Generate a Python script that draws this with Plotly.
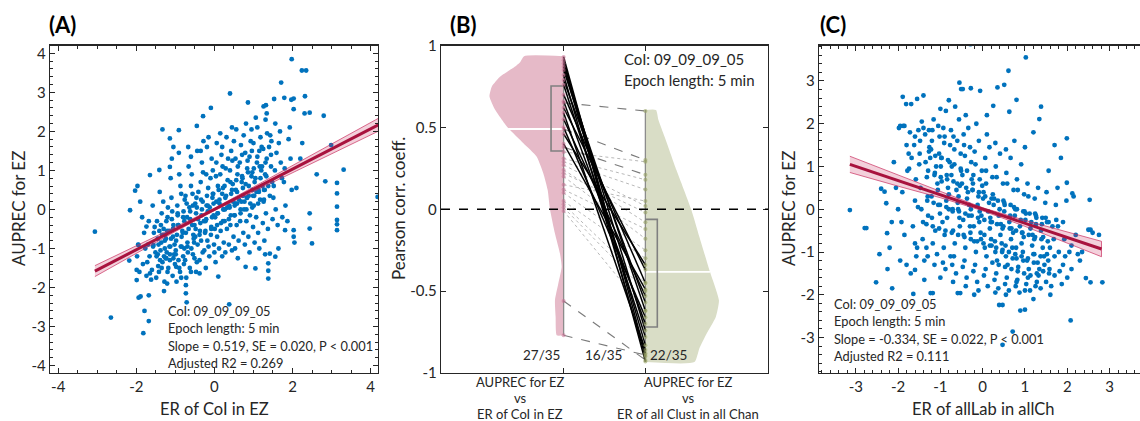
import plotly.graph_objects as go

W, H = 1140, 421
FONT = "Lato"
INK = "#262626"
BLUE = "#0072BD"
RED = "#A8123E"

# ---------------- Panel A data (ER of CoI in EZ vs AUPREC for EZ) ----------------
A_points = [
    # outliers / sparse region
    (-3.06, -0.57), (-2.65, -2.77), (-2.16, -0.02), (-2.03, 0.48), (-1.97, 0.60), (-1.82, -3.17),
    (-1.79, -2.60), (-1.68, -2.86), (-1.94, -2.26), (-1.89, -2.23), (-1.68, -2.20), (1.98, 3.85),
    (2.24, 3.56), (2.35, 3.56), (1.71, 3.25), (0.40, 2.97), (-0.09, 2.60), (-0.29, 2.39),
    (2.99, 1.65), (3.31, 1.02), (3.14, 0.68), (3.14, 0.41), (3.14, 0.07), (3.14, -0.27),
    (3.14, -0.38), (3.14, -0.53), (4.18, 0.32), (2.50, -0.87), (2.44, -0.49), (2.44, -0.10),
    (2.80, 2.40), (2.62, 0.90), (2.84, 0.72), (2.32, 2.90), (2.31, 2.46), (2.44, 2.48),
    (2.03, 2.84), (1.97, 2.81), (2.03, 2.57), (1.79, 2.86), (1.53, 2.83), (1.34, 2.46),
    (1.26, 2.64), (1.32, 2.67), (0.86, 2.74), (0.38, -2.43), (-0.73, -2.15), (-0.71, -2.38),
    (-0.73, -1.94), (-1.29, -2.09), (-1.33, 2.05), (-0.91, 2.03), (-0.45, 2.14), (1.38, -1.77),
    (1.38, -1.57), (1.38, -1.38), (1.05, -1.51), (0.80, -1.47), (2.03, -0.70), (2.05, -0.85),
    (2.03, -0.53), (1.81, -0.53), (1.64, -1.00), (1.56, -1.21), (1.42, -1.13), (0.10, -1.72),
    (-0.38, -1.64), (-0.98, -1.47), (-1.65, -1.64), (-1.99, -1.81), (-1.99, -1.55), (-1.95, -0.91),
    (-2.18, -1.31), (-1.74, -0.44), (-1.56, -0.91), (-1.65, 0.88), (-1.41, 1.01), (-1.14, 1.09),
    (-1.14, 1.82), (-1.05, 1.60), (2.20, 1.30), (2.10, 0.55), (2.25, 1.70), (1.10, 2.10),
    # core cloud
    (-1.98, -1.20), (-1.80, -0.60), (-1.92, -1.60), (-1.85, -0.20), (-1.77, -1.00), (-1.95, -0.90),
    (-1.83, -1.40), (-1.90, 0.20),
    (-1.72, -1.35), (-1.55, -0.60), (-1.62, -1.80), (-1.68, -0.30), (-1.51, -1.10), (-1.60, -1.55),
    (-1.70, -0.90), (-1.58, 0.10), (-1.66, -1.20), (-1.53, -0.45), (-1.74, -1.70), (-1.57, -0.95),
    (-1.48, -1.20), (-1.30, -0.50), (-1.42, -1.60), (-1.35, -0.10), (-1.27, -1.00), (-1.45, -0.75),
    (-1.33, -1.35), (-1.40, 0.45), (-1.28, -1.85), (-1.47, -0.30), (-1.38, -1.05), (-1.26, -0.65),
    (-1.44, -1.45), (-1.31, 0.20), (-1.36, -0.85), (-1.49, -1.75), (-1.29, -1.20), (-1.41, -0.55),
    (-1.22, -1.10), (-1.05, -0.40), (-1.18, -1.50), (-1.10, 0.30), (-1.02, -0.90), (-1.20, -0.20),
    (-1.14, -1.30), (-1.07, -1.70), (-1.24, -0.75), (-1.12, 0.80), (-1.03, -1.15), (-1.16, -0.55),
    (-1.21, -1.90), (-1.08, -0.05), (-1.13, -0.95), (-1.01, -1.40), (-1.19, 0.05), (-1.06, -0.70),
    (-1.23, -1.25), (-1.09, 1.30),
    (-0.98, -0.80), (-0.80, -0.20), (-0.92, -1.30), (-0.85, 0.40), (-0.77, -1.00), (-0.95, 0.10),
    (-0.88, -1.60), (-0.82, -0.55), (-0.99, -1.15), (-0.90, 0.90), (-0.78, -1.40), (-0.93, -0.40),
    (-0.86, -0.95), (-0.76, 0.25), (-0.97, -1.85), (-0.84, -0.70), (-0.91, 1.45), (-0.80, -1.20),
    (-0.94, -0.10), (-0.87, 0.60),
    (-0.73, -0.60), (-0.55, 0.10), (-0.68, -1.10), (-0.60, 0.60), (-0.52, -0.85), (-0.70, -0.20),
    (-0.63, -1.50), (-0.57, -0.40), (-0.74, 0.35), (-0.66, 1.10), (-0.51, -1.25), (-0.69, -0.95),
    (-0.58, 0.90), (-0.72, -1.75), (-0.62, -0.05), (-0.54, -0.65), (-0.67, 1.60), (-0.59, -1.00),
    (-0.71, 0.15), (-0.56, 0.40),
    (-0.48, -0.50), (-0.30, 0.20), (-0.43, -0.90), (-0.35, 0.70), (-0.27, -0.30), (-0.45, 0.05),
    (-0.38, -1.30), (-0.32, 1.20), (-0.49, -0.70), (-0.41, 0.45), (-0.26, -1.05), (-0.44, 1.50),
    (-0.33, -0.15), (-0.47, -1.60), (-0.37, -0.55), (-0.29, 0.95), (-0.42, -0.25), (-0.28, 1.75),
    (-0.46, 0.30), (-0.34, -0.80),
    (-0.23, -0.30), (-0.05, 0.30), (-0.18, -0.80), (-0.10, 0.80), (-0.02, -0.15), (-0.20, 0.10),
    (-0.13, -1.20), (-0.07, 1.30), (-0.24, -0.60), (-0.16, 0.55), (-0.01, -0.90), (-0.19, 1.60),
    (-0.08, -0.45), (-0.22, -1.50), (-0.12, 0.05), (-0.04, 1.00), (-0.17, -0.05), (-0.03, 0.40),
    (-0.21, 0.90), (-0.09, -0.65),
    (0.02, -0.20), (0.20, 0.40), (0.07, -0.70), (0.15, 0.90), (0.23, 0.00), (0.05, 0.20),
    (0.12, -1.00), (0.18, 1.40), (0.01, -0.50), (0.09, 0.60), (0.24, -0.85), (0.06, 1.70),
    (0.17, -0.35), (0.03, -1.35), (0.13, 0.15), (0.21, 1.10), (0.08, -0.10), (0.22, 0.55),
    (0.04, 0.85), (0.16, -0.55),
    (0.27, 0.00), (0.45, 0.50), (0.32, -0.50), (0.40, 1.00), (0.48, 0.20), (0.30, 0.35),
    (0.37, -0.90), (0.43, 1.50), (0.26, -0.30), (0.34, 0.75), (0.49, -0.70), (0.31, 1.85),
    (0.42, -0.15), (0.28, -1.10), (0.38, 0.10), (0.46, 1.25), (0.33, 0.05), (0.47, 0.65),
    (0.29, 1.05), (0.41, -0.40),
    (0.52, 0.10), (0.70, 0.70), (0.57, -0.40), (0.65, 1.20), (0.73, 0.35), (0.55, 0.50),
    (0.62, -0.80), (0.68, 1.65), (0.51, -0.15), (0.59, 0.90), (0.74, -0.60), (0.56, 2.05),
    (0.67, 0.00), (0.53, -1.00), (0.63, 0.25), (0.71, 1.40), (0.58, 0.15), (0.72, 0.80),
    (0.54, 1.30), (0.66, -0.30),
    (0.77, 0.20), (0.95, 0.85), (0.82, -0.30), (0.90, 1.35), (0.98, 0.50), (0.80, 0.65),
    (0.87, -0.70), (0.93, 1.75), (0.76, 0.00), (0.84, 1.05), (0.99, -0.45), (0.81, 2.20),
    (0.92, 0.15), (0.78, -0.90), (0.88, 0.35), (0.96, 1.50), (0.83, 0.30), (0.97, 0.95),
    (0.79, 1.45), (0.91, -0.15),
    (1.02, 0.35), (1.20, 1.00), (1.07, -0.20), (1.15, 1.50), (1.23, 0.60), (1.05, 0.80),
    (1.12, -0.60), (1.18, 1.85), (1.01, 0.10), (1.09, 1.20), (1.24, -0.35), (1.06, 2.35),
    (1.17, 0.25), (1.03, -0.85), (1.13, 0.50), (1.21, 1.60), (1.08, 0.45), (1.22, 1.10),
    (1.27, 0.50), (1.45, 1.10), (1.32, -0.10), (1.40, 1.60), (1.48, 0.70), (1.30, 0.90),
    (1.37, -0.50), (1.43, 1.90), (1.26, 0.20), (1.34, 1.30), (1.49, -0.25), (1.31, 2.30),
    (1.42, 0.35), (1.28, -0.80), (1.38, 0.60), (1.46, 1.75),
    (1.52, 0.60), (1.70, 1.20), (1.57, 0.00), (1.65, 1.70), (1.73, 0.80), (1.55, 1.00),
    (1.62, -0.40), (1.68, 2.00), (1.51, 0.30), (1.59, 1.45), (1.74, -0.20), (1.56, 2.20),
    (1.78, 0.70), (1.95, 1.30), (1.82, 0.10), (1.90, 1.80), (1.98, 0.50), (1.80, 1.05),
    (1.87, -0.30), (1.93, 2.10),
    # densest band around the fit
    (-1.43, -0.90), (-1.37, -0.40), (-1.39, -1.30), (-1.34, -0.65), (-1.27, -0.80), (-1.23, -0.30),
    (-1.25, -1.25), (-1.21, -0.55), (-1.11, -0.75), (-1.09, -0.25), (-1.14, -1.15), (-1.06, -0.50),
    (-0.96, -0.65), (-0.94, -0.15), (-0.99, -1.05), (-0.92, -0.40), (-0.81, -0.60), (-0.79, -0.05),
    (-0.84, -0.95), (-0.77, -0.30), (-0.66, -0.50), (-0.64, 0.05), (-0.69, -0.85), (-0.62, -0.25),
    (-0.51, -0.40), (-0.49, 0.15), (-0.53, -0.75), (-0.47, -0.10), (-0.36, -0.35), (-0.34, 0.25),
    (-0.38, -0.65), (-0.32, 0.00), (-0.21, -0.25), (-0.19, 0.35), (-0.23, -0.55), (-0.17, 0.10),
    (-0.06, -0.20), (-0.04, 0.40), (-0.08, -0.50), (-0.02, 0.15), (0.09, -0.10), (0.11, 0.50),
    (0.07, -0.40), (0.13, 0.25), (0.24, 0.00), (0.26, 0.60), (0.22, -0.30), (0.28, 0.30),
    (0.39, 0.05), (0.41, 0.70), (0.37, -0.25), (0.43, 0.40), (0.54, 0.15), (0.56, 0.75),
    (0.52, -0.15), (0.58, 0.45), (0.69, 0.20), (0.71, 0.85), (0.67, -0.10), (0.73, 0.55),
    (0.84, 0.30), (0.86, 0.95), (0.82, 0.00), (0.88, 0.60), (0.99, 0.35), (1.01, 1.05),
    (0.97, 0.05), (1.03, 0.70), (1.14, 0.45), (1.16, 1.10), (1.12, 0.15), (1.18, 0.80),
    (1.29, 0.50), (1.31, 1.20), (1.27, 0.25), (1.33, 0.85),
    (0.05, 1.20), (0.20, 1.60), (0.35, 1.30), (0.50, 1.75), (0.60, 1.10), (0.75, 1.90),
    (0.85, 1.25), (1.00, 1.70), (1.10, 1.35), (1.25, 1.55), (1.35, 1.95), (1.45, 1.40),
    (0.15, 1.95), (0.45, 2.10), (0.95, 2.05), (-0.15, 1.85), (-0.60, 1.35), (-0.35, 1.50),
    (-1.35, -1.50), (-1.20, -1.60), (-1.05, -1.25), (-0.90, -1.50), (-0.75, -1.30), (-0.60, -1.60),
    (-0.45, -1.35), (-1.45, -1.15), (-1.15, -0.95), (-0.85, -1.75), (-0.55, -1.15), (-0.30, -1.10),
    (-0.15, -0.95), (0.00, -1.10), (0.20, -1.20), (0.45, -1.05), (0.60, -1.25), (0.90, -1.10),
    (1.15, -1.00), (1.30, -1.15),
]
A_fit_x = [-3.06, 4.20]
A_fit_y = [-1.58, 2.17]
A_band_x = [-3.06, -2.0, -1.0, 0.0, 1.0, 2.0, 3.0, 4.2]
A_band_lo = [-1.72, -1.125, -0.565, -0.03, 0.465, 0.935, 1.42, 2.005]
A_band_hi = [-1.44, -0.935, -0.455, 0.03, 0.575, 1.125, 1.68, 2.335]
A_ticks = [-4, -3, -2, -1, 0, 1, 2, 3, 4]
A_xticks = [-4, -2, 0, 2, 4]
A_text = ["CoI: 09_09_09_05", "Epoch length: 5 min",
          "Slope = 0.519, SE = 0.020, P < 0.001", "Adjusted R2 = 0.269"]

# ---------------- Panel B data (paired Pearson correlations) ----------------
B_cat_lines = [["AUPREC for EZ", "vs", "ER of CoI in EZ"],
               ["AUPREC for EZ", "vs", "ER of all Clust in all Chan"]]
B_solid_left = [0.93, 0.91, 0.89, 0.87, 0.85, 0.82, 0.79, 0.76, 0.70, 0.66, 0.62, 0.59, 0.55, 0.50, 0.46, 0.40]
B_solid_right = [-0.88, -0.93, -0.74, -0.83, -0.62, -0.90, -0.57, -0.78, -0.45, -0.70, -0.37, -0.86, -0.53,
                 -0.66, -0.34, -0.49]
B_dash_left = [0.65, 0.49, 0.38, -0.56, -0.77]
B_dash_right = [0.60, 0.30, 0.21, -0.92, -0.89]
B_dot_left = [0.35, 0.31, 0.29, 0.27, 0.24, 0.22, 0.20, 0.15, 0.12, 0.10, 0.05, 0.03, 0.01, -0.01]
B_dot_right = [0.29, 0.18, 0.12, 0.02, -0.08, -0.02, -0.18, 0.05, -0.12, -0.25, -0.30, -0.45, -0.50, -0.62]
VL_y = [0.935, 0.90, 0.872, 0.84, 0.81, 0.749, 0.688, 0.607, 0.55, 0.494, 0.403, 0.321, 0.219, 0.117, 0.0,
        -0.148, -0.27, -0.352, -0.454, -0.556, -0.657, -0.77]
VL_w = [0.484, 0.53, 0.593, 0.69, 0.776, 0.878, 0.907, 0.838, 0.76, 0.675, 0.492, 0.329, 0.248, 0.195, 0.167,
        0.106, 0.045, 0.024, 0.065, 0.106, 0.098, 0.085]
VR_y = [0.606, 0.545, 0.443, 0.24, 0.0, -0.168, -0.382, -0.556, -0.66, -0.759, -0.85, -0.933]
VR_w = [0.13, 0.16, 0.235, 0.38, 0.56, 0.66, 0.79, 0.90, 0.86, 0.75, 0.66, 0.60]
B_median = [0.49, -0.382]
B_median_w = [0.68, 0.79]
B_q1 = [0.356, -0.719]
B_q3 = [0.753, -0.062]
B_counts = ["27/35", "16/35", "22/35"]
B_yticks = [-1, -0.5, 0, 0.5, 1]
B_ytext = ["-1", "-0.5", "0", "0.5", "1"]
B_text = ["CoI: 09_09_09_05", "Epoch length: 5 min"]

# ---------------- Panel C data (ER of allLab in allCh vs AUPREC for EZ) ----------------
C_points = [
    (-0.29, 3.86), (1.02, 3.55), (0.61, 3.24), (-3.14, -0.02), (-2.75, -0.44), (-2.79, -0.44),
    (-2.52, -1.71), (-2.44, -1.05), (-2.14, -1.85), (-2.26, -0.56), (-2.28, 0.14), (-2.32, 0.41),
    (-2.40, 0.48), (-1.89, 2.63), (-1.81, 2.46), (-1.69, 2.46), (-1.55, 2.58), (-1.40, 2.66),
    (-0.55, 2.96), (-0.51, 2.81), (-0.47, 2.81), (-0.28, 2.83), (-0.06, 2.77), (0.35, 2.85),
    (0.51, 2.91), (0.25, 2.42), (0.80, 2.56), (0.63, 2.28), (1.38, 2.40), (1.34, 2.11),
    (1.99, 1.66), (1.99, 0.62), (2.12, 0.37), (2.53, 0.22), (2.55, -0.48), (2.50, -0.48),
    (2.75, -0.60), (2.83, -1.71), (2.55, -1.71), (2.44, -1.61), (2.08, -2.60), (0.89, -2.37),
    (1.00, -2.35), (0.39, -2.24), (0.47, -2.24), (0.47, -3.17), (0.71, -2.86), (-0.59, -1.96),
    (-0.53, -1.96), (-1.18, -1.96), (-1.23, -1.96), (-1.64, -1.98), (-1.60, -1.42), (-1.38, -1.65),
    (-1.00, 2.35), (-0.80, 2.55), (0.10, 2.20), (-1.95, 1.95), (-1.85, 1.95), (1.70, 1.50),
    (1.60, -2.00), (1.20, -2.10), (-0.20, -2.00), (2.35, -1.00), (2.60, -0.55),
    # core cloud
    (-2.10, 1.10), (-2.20, -0.90), (-2.05, 0.50), (-2.25, -1.40), (-2.15, -0.30),
    (-1.98, 1.90), (-1.90, 0.40), (-1.85, -0.60), (-1.80, 1.50), (-1.95, -1.20), (-1.78, 0.90),
    (-1.88, 1.95), (-1.92, -0.30),
    (-1.72, 1.80), (-1.60, 0.20), (-1.55, -0.90), (-1.68, 1.20), (-1.52, 1.85), (-1.65, -0.40),
    (-1.58, 0.70), (-1.70, -1.50), (-1.62, 1.50), (-1.53, 0.05), (-1.74, 0.95), (-1.57, -1.10),
    (-1.48, 1.60), (-1.30, 0.30), (-1.42, -0.70), (-1.35, 1.10), (-1.27, 1.85), (-1.45, 0.00),
    (-1.38, -1.20), (-1.32, 0.75), (-1.49, 1.30), (-1.41, -0.30), (-1.26, 1.45), (-1.44, 2.05),
    (-1.33, -0.90), (-1.47, 0.50), (-1.36, 1.75), (-1.29, -0.15),
    (-1.22, 1.40), (-1.05, 0.10), (-1.18, -0.80), (-1.10, 1.00), (-1.02, 1.70), (-1.20, -0.20),
    (-1.14, -1.30), (-1.07, 0.60), (-1.24, 1.20), (-1.12, -0.50), (-1.03, 1.30), (-1.16, 2.10),
    (-1.21, 0.30), (-1.08, -1.05), (-1.13, 0.85), (-1.01, -0.10), (-1.19, 1.85), (-1.06, 0.45),
    (-0.98, 1.20), (-0.80, 0.00), (-0.92, -0.90), (-0.85, 0.80), (-0.77, 1.50), (-0.95, -0.30),
    (-0.88, -1.40), (-0.82, 0.50), (-0.99, 1.00), (-0.90, -0.60), (-0.78, 1.10), (-0.93, 1.90),
    (-0.86, 0.20), (-0.76, -1.10), (-0.97, 0.65), (-0.84, -0.20), (-0.91, 1.55), (-0.80, 0.35),
    (-0.94, -1.25), (-0.87, 2.30),
    (-0.73, 1.00), (-0.55, -0.20), (-0.68, -1.10), (-0.60, 0.60), (-0.52, 1.30), (-0.70, -0.50),
    (-0.63, -1.50), (-0.57, 0.30), (-0.74, 0.80), (-0.66, -0.80), (-0.51, 0.90), (-0.69, 1.70),
    (-0.58, 0.00), (-0.72, -1.30), (-0.62, 0.45), (-0.54, -0.40), (-0.67, 1.40), (-0.59, 0.15),
    (-0.71, -0.05), (-0.56, 2.10),
    (-0.48, 0.80), (-0.30, -0.40), (-0.43, -1.20), (-0.35, 0.40), (-0.27, 1.10), (-0.45, -0.60),
    (-0.38, -1.60), (-0.32, 0.10), (-0.49, 0.60), (-0.41, -0.90), (-0.26, 0.70), (-0.44, 1.50),
    (-0.33, -0.15), (-0.47, -1.35), (-0.37, 0.25), (-0.29, -0.55), (-0.42, 1.25), (-0.28, 0.00),
    (-0.46, -0.25), (-0.34, 1.90),
    (-0.23, 0.60), (-0.05, -0.55), (-0.18, -1.30), (-0.10, 0.30), (-0.02, 0.90), (-0.20, -0.75),
    (-0.13, -1.70), (-0.07, -0.05), (-0.24, 0.45), (-0.16, -1.00), (-0.01, 0.55), (-0.19, 1.35),
    (-0.08, -0.30), (-0.22, -1.45), (-0.12, 0.10), (-0.04, -0.70), (-0.17, 1.05), (-0.03, -0.15),
    (-0.21, -0.40), (-0.09, 1.60),
    (0.02, 0.40), (0.20, -0.70), (0.07, -1.40), (0.15, 0.15), (0.23, 0.75), (0.05, -0.90),
    (0.12, -1.80), (0.18, -0.20), (0.01, 0.25), (0.09, -1.10), (0.24, 0.35), (0.06, 1.20),
    (0.17, -0.45), (0.03, -1.55), (0.13, -0.05), (0.21, -0.85), (0.08, 0.90), (0.22, -0.30),
    (0.04, -0.60), (0.16, 1.45),
    (0.27, 0.25), (0.45, -0.80), (0.32, -1.50), (0.40, 0.00), (0.48, 0.60), (0.30, -1.00),
    (0.37, -1.85), (0.43, -0.35), (0.26, 0.10), (0.34, -1.20), (0.49, 0.20), (0.31, 1.00),
    (0.42, -0.60), (0.28, -1.65), (0.38, -0.15), (0.46, -1.00), (0.33, 0.75), (0.47, -0.45),
    (0.29, -0.75), (0.41, 1.30),
    (0.52, 0.10), (0.70, -0.90), (0.57, -1.60), (0.65, -0.15), (0.73, 0.45), (0.55, -1.10),
    (0.62, -1.90), (0.68, -0.45), (0.51, -0.05), (0.59, -1.30), (0.74, 0.05), (0.56, 0.85),
    (0.67, -0.70), (0.53, -1.75), (0.63, -0.30), (0.71, -1.15), (0.58, 0.60), (0.72, -0.55),
    (0.54, -0.85), (0.66, 1.20),
    (0.77, 0.00), (0.95, -1.00), (0.82, -1.65), (0.90, -0.25), (0.98, 0.35), (0.80, -1.15),
    (0.87, -1.95), (0.93, -0.55), (0.76, -0.15), (0.84, -1.35), (0.99, -0.05), (0.81, 0.70),
    (0.92, -0.80), (0.78, -1.80), (0.88, -0.40), (0.96, -1.20), (0.83, 0.45), (0.97, -0.65),
    (0.79, -0.90), (0.91, 1.05),
    (1.02, -0.10), (1.20, -1.05), (1.07, -1.60), (1.15, -0.30), (1.23, 0.25), (1.05, -1.20),
    (1.12, -1.90), (1.18, -0.60), (1.01, -0.25), (1.09, -1.40), (1.24, -0.10), (1.06, 0.60),
    (1.17, -0.85), (1.03, -1.75), (1.13, -0.45), (1.21, -1.25), (1.08, 0.30), (1.22, -0.70),
    (1.27, -0.20), (1.45, -1.10), (1.32, -1.55), (1.40, -0.35), (1.48, 0.15), (1.30, -1.25),
    (1.37, -1.85), (1.43, -0.65), (1.26, -0.35), (1.34, -1.40), (1.49, -0.20), (1.31, 0.50),
    (1.42, -0.90), (1.28, -1.70), (1.38, -0.50), (1.46, -1.30),
    (1.52, -0.30), (1.70, -1.10), (1.57, -1.50), (1.65, -0.40), (1.73, 0.10), (1.55, -1.20),
    (1.62, -1.80), (1.68, -0.70), (1.51, 0.40), (1.59, -0.90), (1.74, -0.25), (1.56, 0.90),
    (1.78, -0.40), (1.95, -1.10), (1.82, -1.45), (1.90, -0.30), (1.98, 0.20), (1.80, -1.00),
    (1.87, -1.75), (1.93, -0.70), (1.85, 1.20), (1.77, 0.50),
    (2.05, -1.00), (2.20, -0.60), (2.10, -1.40), (2.25, -1.05), (2.15, 0.30), (2.30, -1.20),
    # densest part of the cloud
    (-1.31, 0.20), (-1.29, 0.90), (-1.33, -0.35), (-1.27, 1.35), (-1.16, 0.15), (-1.14, 0.80),
    (-1.18, -0.40), (-1.12, 1.25), (-1.01, 0.10), (-0.99, 0.75), (-1.03, -0.45), (-0.97, 1.20),
    (-0.86, 0.05), (-0.84, 0.70), (-0.88, -0.50), (-0.82, 1.15), (-0.71, 0.00), (-0.69, 0.65),
    (-0.73, -0.55), (-0.67, 1.05), (-0.56, -0.05), (-0.54, 0.55), (-0.58, -0.60), (-0.52, 0.95),
    (-0.41, -0.10), (-0.39, 0.50), (-0.43, -0.65), (-0.37, 0.90), (-0.26, -0.15), (-0.24, 0.45),
    (-0.28, -0.70), (-0.22, 0.80), (-0.11, -0.20), (-0.09, 0.40), (-0.13, -0.75), (-0.07, 0.70),
    (0.04, -0.25), (0.06, 0.30), (0.02, -0.80), (0.08, 0.60), (0.19, -0.30), (0.21, 0.25),
    (0.17, -0.85), (0.23, -1.25), (0.34, -0.35), (0.36, 0.20), (0.32, -0.90), (0.38, -1.30),
    (0.49, -0.40), (0.51, 0.15), (0.47, -0.95), (0.53, -1.35), (0.64, -0.45), (0.66, 0.10),
    (0.62, -1.00), (0.68, -1.40), (0.79, -0.50), (0.81, 0.00), (0.77, -1.05), (0.83, -1.45),
    (0.94, -0.55), (0.96, -0.05), (0.92, -1.10), (0.98, -1.50), (1.09, -0.60), (1.11, -0.10),
    (1.07, -1.15), (1.13, -1.55), (1.24, -0.65), (1.26, -0.15), (1.22, -1.05), (1.28, -1.50),
    (1.39, -0.70), (1.41, -0.20), (1.37, -1.10), (1.43, -1.45), (1.54, -0.75), (1.56, -0.30),
    (1.52, -1.05), (1.58, -1.40),
    (-1.60, 1.70), (-1.40, 1.90), (-1.20, 1.60), (-1.05, 1.95), (-0.90, 1.70), (-0.75, 1.85),
    (-0.60, 1.60), (-0.45, 1.75), (-0.30, 1.45), (-1.75, 1.30), (-1.50, 1.05), (-0.65, 2.40),
    (-0.40, 2.20), (-0.15, 2.00), (0.10, 1.75), (0.30, 1.55), (0.55, 1.40), (0.75, 1.60),
    (1.00, 1.45), (1.20, 1.80),
    (0.30, -1.95), (0.55, -2.00), (0.80, -1.70), (1.00, -1.90), (1.25, -1.80), (1.50, -1.70),
    (1.70, -1.55), (1.90, -1.30), (2.10, -0.85), (2.00, -1.60), (-0.10, -1.90), (-0.40, -1.80),
    (-0.70, -1.70), (-1.00, -1.60), (-1.30, -1.10), (-1.60, -0.80), (-1.80, -1.30), (-2.00, 0.00),
]
C_fit_x = [-3.14, 2.81]
C_fit_y = [1.05, -0.93]
C_band_x = [-3.14, -2.0, -1.0, 0.0, 1.0, 2.0, 2.81]
C_band_lo = [0.86, 0.54, 0.27, -0.035, -0.40, -0.79, -1.11]
C_band_hi = [1.24, 0.80, 0.41, 0.035, -0.26, -0.53, -0.75]
C_ticks = [-3, -2, -1, 0, 1, 2, 3]
C_text = ["CoI: 09_09_09_05", "Epoch length: 5 min",
          "Slope = -0.334, SE = 0.022, P < 0.001", "Adjusted R2 = 0.111"]


def px_x(p):
    return p / W


def px_y(p):
    return 1 - p / H


fig = go.Figure()


def scatter_panel(points, fx, fy, bx, blo, bhi, xa, ya):
    fig.add_trace(go.Scatter(x=[p[0] for p in points], y=[p[1] for p in points], mode="markers",
                             marker=dict(color=BLUE, size=4.8, line=dict(width=0)),
                             xaxis=xa, yaxis=ya, showlegend=False, hoverinfo="skip"))
    fig.add_trace(go.Scatter(x=bx + bx[::-1], y=bhi + blo[::-1], mode="lines", fill="toself",
                             fillcolor="rgba(200,40,90,0.22)",
                             line=dict(color="rgba(200,40,90,0.85)", width=0.8),
                             xaxis=xa, yaxis=ya, showlegend=False, hoverinfo="skip"))
    fig.add_trace(go.Scatter(x=fx, y=fy, mode="lines", line=dict(color=RED, width=3),
                             xaxis=xa, yaxis=ya, showlegend=False, hoverinfo="skip"))


scatter_panel(A_points, A_fit_x, A_fit_y, A_band_x, A_band_lo, A_band_hi, "x", "y")
scatter_panel(C_points, C_fit_x, C_fit_y, C_band_x, C_band_lo, C_band_hi, "x3", "y3")

# ---- Panel B ----
fig.add_trace(go.Scatter(x=[1] + [1 - w for w in VL_w] + [1], y=[VL_y[0]] + VL_y + [VL_y[-1]],
                         mode="lines", fill="toself", fillcolor="#E6BAC8",
                         line=dict(width=0, shape="spline", smoothing=0.5),
                         xaxis="x2", yaxis="y2", showlegend=False, hoverinfo="skip"))
fig.add_trace(go.Scatter(x=[2] + [2 + w for w in VR_w] + [2], y=[VR_y[0]] + VR_y + [VR_y[-1]],
                         mode="lines", fill="toself", fillcolor="#D9DDC6",
                         line=dict(width=0, shape="spline", smoothing=0.5),
                         xaxis="x2", yaxis="y2", showlegend=False, hoverinfo="skip"))
fig.add_trace(go.Scatter(x=[1 - B_median_w[0], 1, None, 2, 2 + B_median_w[1]],
                         y=[B_median[0], B_median[0], None, B_median[1], B_median[1]],
                         mode="lines", line=dict(color="white", width=1.8),
                         xaxis="x2", yaxis="y2", showlegend=False, hoverinfo="skip"))
fig.add_trace(go.Scatter(x=[1, 1, None, 2, 2], y=[VL_y[0], VL_y[-1], None, VR_y[0], VR_y[-1]],
                         mode="lines", line=dict(color="#8C8C8C", width=1.3),
                         xaxis="x2", yaxis="y2", showlegend=False, hoverinfo="skip"))
fig.add_trace(go.Scatter(x=[1, 0.846, 0.846, 1, None, 2, 2.146, 2.146, 2],
                         y=[B_q1[0], B_q1[0], B_q3[0], B_q3[0], None, B_q3[1], B_q3[1], B_q1[1], B_q1[1]],
                         mode="lines", line=dict(color="#808080", width=1.6),
                         xaxis="x2", yaxis="y2", showlegend=False, hoverinfo="skip"))


def pair_xy(left, right):
    xs, ys = [], []
    for a, b in zip(left, right):
        xs += [1, 2, None]
        ys += [a, b, None]
    return xs, ys


xs, ys = pair_xy(B_dot_left, B_dot_right)
fig.add_trace(go.Scatter(x=xs, y=ys, mode="lines", line=dict(color="#A6A6A6", width=0.8, dash="dot"),
                         xaxis="x2", yaxis="y2", showlegend=False, hoverinfo="skip"))
xs, ys = pair_xy(B_dash_left, B_dash_right)
fig.add_trace(go.Scatter(x=xs, y=ys, mode="lines", line=dict(color="#7A7A7A", width=1.1, dash="dash"),
                         xaxis="x2", yaxis="y2", showlegend=False, hoverinfo="skip"))
xs, ys = pair_xy(B_solid_left, B_solid_right)
fig.add_trace(go.Scatter(x=xs, y=ys, mode="lines", line=dict(color="black", width=1.5),
                         xaxis="x2", yaxis="y2", showlegend=False, hoverinfo="skip"))
all_left = B_solid_left + B_dash_left + B_dot_left
all_right = B_solid_right + B_dash_right + B_dot_right
fig.add_trace(go.Scatter(x=[1] * len(all_left), y=all_left, mode="markers",
                         marker=dict(color="rgba(200,110,145,0.55)", size=4),
                         xaxis="x2", yaxis="y2", showlegend=False, hoverinfo="skip"))
fig.add_trace(go.Scatter(x=[2] * len(all_right), y=all_right, mode="markers",
                         marker=dict(color="rgba(150,160,100,0.6)", size=4),
                         xaxis="x2", yaxis="y2", showlegend=False, hoverinfo="skip"))


def axis(domain, rng, anchor, tickvals, ticktext, minor=None, mirror="allticks"):
    d = dict(domain=domain, range=rng, anchor=anchor, showline=True, linecolor=INK, linewidth=1.2,
             mirror=mirror, ticks="inside", ticklen=5, tickwidth=1, tickcolor=INK,
             tickmode="array", tickvals=tickvals, ticktext=ticktext,
             showgrid=False, zeroline=False, automargin=False,
             tickfont=dict(family=FONT, size=15, color=INK))
    if minor is not None:
        d["minor"] = dict(ticks="inside", dtick=minor, tick0=0, ticklen=3, tickcolor=INK, showgrid=False)
    return d


yd = [px_y(373), px_y(45.5)]
fig.update_layout(
    xaxis=axis([px_x(50), px_x(378)], [-4.21, 4.19], "y", A_xticks, [str(v) for v in A_xticks], 0.5),
    yaxis=axis(yd, [-4.19, 4.2], "x", A_ticks, [str(v) for v in A_ticks], 0.2),
    xaxis2=axis([px_x(441), px_x(768)], [-0.5, 3.5], "y2", [1, 2], ["", ""]),
    yaxis2=axis(yd, [-1, 1], "x2", B_yticks, B_ytext),
    xaxis3=axis([px_x(819), 1.0], [-3.87, 3.72], "y3", C_ticks, [str(v) for v in C_ticks], 0.2),
    yaxis3=axis(yd, [-3.83, 3.83], "x3", C_ticks, [str(v) for v in C_ticks], 0.2, mirror=False),
)

fig.add_shape(type="line", xref="x2 domain", yref="y2", x0=0, x1=1, y0=0, y1=0,
              line=dict(color="black", width=1.3, dash="dash"))

ann = []


def text(x, y, s, size=14, bold=False, xanchor="left", angle=0):
    ann.append(dict(x=px_x(x), y=px_y(y), xref="paper", yref="paper", text=("<b>%s</b>" % s) if bold else s,
                    showarrow=False, xanchor=xanchor, yanchor="middle", textangle=angle,
                    font=dict(family=FONT, size=size, color="black" if bold else INK)))


text(62, 25, "(A)", 22, True, "center")
text(463, 25, "(B)", 22, True, "center")
text(833, 25, "(C)", 22, True, "center")
text(214, 409, "ER of CoI in EZ", 16.5, False, "center")
text(18, 209, "AUPREC for EZ", 17, False, "center", -90)
text(398, 209, "Pearson corr. coeff.", 17, False, "center", -90)
text(983, 409, "ER of allLab in allCh", 16.5, False, "center")
text(788, 209, "AUPREC for EZ", 17, False, "center", -90)
for i, s in enumerate(A_text):
    text(165.7, 311 + i * 17.4, s, 12.8)
for i, s in enumerate(C_text):
    text(831.7, 304 + i * 17.4, s, 12.8)
for i, s in enumerate(B_text):
    text(621.7, 59 + i * 21, s, 15)
text(541.7, 355, B_counts[0], 13.5, False, "center")
text(603, 355, B_counts[1], 13.5, False, "center")
text(668, 355, B_counts[2], 13.5, False, "center")
for cx, lines in zip([520, 688], B_cat_lines):
    for j, s in enumerate(lines):
        text(cx, 381.5 + j * 16, s, 13, False, "center")

fig.update_layout(annotations=ann, width=W, height=H, margin=dict(l=0, r=0, t=0, b=0),
                  paper_bgcolor="white", plot_bgcolor="white", showlegend=False)

fig.write_html("out.html", config={"displayModeBar": False, "staticPlot": True})

# remove the browser's default page margin so the figure sits at the window origin
with open("out.html", "r", encoding="utf-8") as f:
    html = f.read()
html = html.replace("<head>", "<head><style>html,body{margin:0;padding:0;overflow:hidden;}</style>", 1)
with open("out.html", "w", encoding="utf-8") as f:
    f.write(html)
